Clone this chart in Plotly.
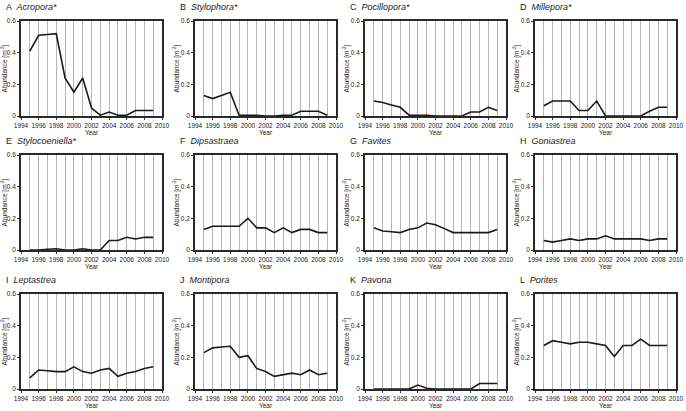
import plotly.graph_objects as go

years = list(range(1995, 2010))

letters = ["A", "B", "C", "D", "E", "F", "G", "H", "I", "J", "K", "L"]
genera = ["Acropora*", "Stylophora*", "Pocillopora*", "Millepora*",
          "Stylocoeniella*", "Dipsastraea", "Favites", "Goniastrea",
          "Leptastrea", "Montipora", "Pavona", "Porites"]

acropora = [0.41, 0.51, 0.515, 0.52, 0.24, 0.15, 0.24, 0.05, 0.005, 0.025, 0.005, 0.005, 0.035, 0.035, 0.035]
stylophora = [0.13, 0.11, 0.13, 0.15, 0.005, 0.005, 0.005, 0.0, 0.0, 0.005, 0.005, 0.03, 0.03, 0.03, 0.005]
pocillopora = [0.095, 0.085, 0.07, 0.055, 0.005, 0.005, 0.005, 0.0, 0.0, 0.0, 0.0, 0.025, 0.025, 0.055, 0.035]
millepora = [0.065, 0.095, 0.095, 0.095, 0.035, 0.035, 0.095, 0.0, 0.0, 0.0, 0.0, 0.0, 0.03, 0.055, 0.055]
stylocoeniella = [0.0, 0.0, 0.005, 0.008, 0.0, 0.0, 0.008, 0.0, 0.0, 0.06, 0.06, 0.08, 0.07, 0.08, 0.08]
dipsastraea = [0.13, 0.15, 0.15, 0.15, 0.15, 0.20, 0.14, 0.14, 0.11, 0.14, 0.11, 0.13, 0.13, 0.11, 0.11]
favites = [0.14, 0.12, 0.115, 0.11, 0.13, 0.14, 0.17, 0.16, 0.135, 0.11, 0.11, 0.11, 0.11, 0.11, 0.13]
goniastrea = [0.06, 0.05, 0.06, 0.07, 0.06, 0.07, 0.07, 0.09, 0.07, 0.07, 0.07, 0.07, 0.06, 0.07, 0.07]
leptastrea = [0.07, 0.12, 0.115, 0.11, 0.11, 0.14, 0.11, 0.10, 0.12, 0.13, 0.08, 0.10, 0.11, 0.13, 0.14]
montipora = [0.23, 0.26, 0.265, 0.27, 0.20, 0.21, 0.13, 0.11, 0.08, 0.09, 0.10, 0.09, 0.12, 0.09, 0.10]
pavona = [0.0, 0.0, 0.0, 0.0, 0.0, 0.025, 0.005, 0.0, 0.0, 0.0, 0.0, 0.0, 0.035, 0.035, 0.035]
porites = [0.275, 0.305, 0.295, 0.285, 0.295, 0.295, 0.285, 0.275, 0.205, 0.275, 0.275, 0.315, 0.275, 0.275, 0.275]

series = [acropora, stylophora, pocillopora, millepora, stylocoeniella, dipsastraea,
          favites, goniastrea, leptastrea, montipora, pavona, porites]

x_tickvals = list(range(1994, 2011, 2))
x_ticktext = [str(v) for v in x_tickvals]
y_tickvals = [0, 0.2, 0.4, 0.6]
y_ticktext = ["0", "0.2", "0.4", "0.6"]

W, H = 686, 411
col_left = [21, 195, 365, 535]
pw, ph = 141, 95
row_top = [21, 155, 294]

FONT = "Arial, Liberation Sans, Helvetica, sans-serif"

fig = go.Figure()
layout = dict(width=W, height=H, margin=dict(l=0, r=0, t=0, b=0),
              paper_bgcolor="white", plot_bgcolor="white", showlegend=False,
              font=dict(family=FONT, color="#222"))
annotations = []

for i, vals in enumerate(series):
    r, c = divmod(i, 4)
    n = i + 1
    xa = "xaxis" if n == 1 else f"xaxis{n}"
    ya = "yaxis" if n == 1 else f"yaxis{n}"
    xref = "x" if n == 1 else f"x{n}"
    yref = "y" if n == 1 else f"y{n}"
    x0 = col_left[c] / W
    x1 = (col_left[c] + pw) / W
    y1 = 1 - row_top[r] / H
    y0 = 1 - (row_top[r] + ph) / H
    fig.add_trace(go.Scatter(x=years, y=vals, mode="lines",
                             line=dict(color="#1a1a1a", width=1.6),
                             xaxis=xref, yaxis=yref, hoverinfo="skip"))
    layout[xa] = dict(domain=[x0, x1], anchor=yref, range=[1994, 2010],
                      tickvals=x_tickvals, ticktext=x_ticktext, tickangle=0,
                      minor=dict(tickvals=years, showgrid=True,
                                 gridcolor="#b5b5b5", gridwidth=1),
                      automargin=False,
                      showgrid=True, gridcolor="#b5b5b5", gridwidth=1,
                      zeroline=False, showline=True, mirror=True,
                      linecolor="#2a2a2a", linewidth=1.6,
                      ticks="outside", ticklen=2, tickcolor="#333",
                      tickfont=dict(size=6.5, family=FONT, color="#222"),
                      title=dict(text="Year", font=dict(size=6.5, family=FONT, color="#222"),
                                 standoff=3))
    layout[ya] = dict(domain=[y0, y1], anchor=xref, range=[0, 0.6],
                      tickvals=y_tickvals, ticktext=y_ticktext, tickangle=0,
                      automargin=False,
                      showgrid=False, zeroline=False, showline=True, mirror=True,
                      linecolor="#2a2a2a", linewidth=1.6,
                      ticks="outside", ticklen=2, tickcolor="#333",
                      tickfont=dict(size=6.5, family=FONT, color="#222"),
                      title=dict(text="Abundance [m<sup>-2</sup>]",
                                 font=dict(size=6.5, family=FONT, color="#222"),
                                 standoff=1))
    annotations.append(dict(xref="paper", yref="paper",
                            x=(col_left[c] - 17) / W, y=1 - (row_top[r] - 14) / H,
                            xanchor="left", yanchor="middle", showarrow=False,
                            text=f"{letters[i]}  <i>{genera[i]}</i>",
                            font=dict(size=9, family=FONT, color="#222")))

layout["annotations"] = annotations
fig.update_layout(**layout)
fig.write_html("out.html",
               config={"displayModeBar": False},
               post_script="document.body.style.margin='0';document.body.style.overflow='hidden';")
